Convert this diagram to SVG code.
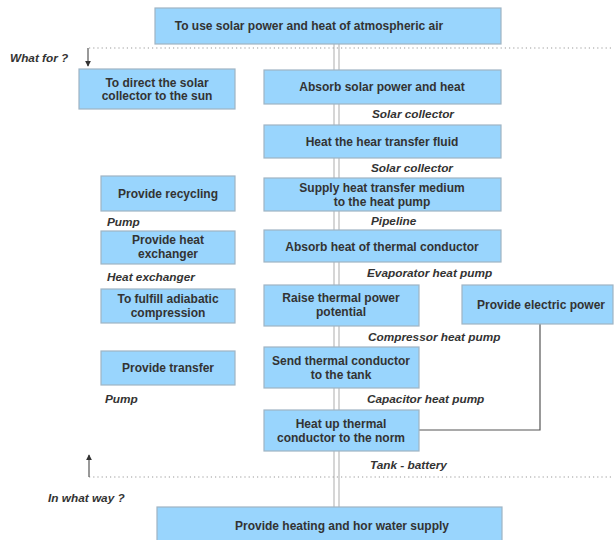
<svg xmlns="http://www.w3.org/2000/svg" width="614" height="540" viewBox="0 0 614 540">
<style>
.box rect{fill:#99d5fd;stroke:#9fb4c4;stroke-width:1.2}
.box text{font-family:"Liberation Sans",Arial,sans-serif;font-weight:bold;font-size:12px;fill:#333;text-anchor:middle}
.lbl{font-family:"Liberation Sans",Arial,sans-serif;font-weight:bold;font-style:italic;font-size:11.8px;fill:#333}
.dot{stroke:#999;stroke-width:1.2;stroke-dasharray:1.2 3;fill:none}
.spine{stroke:#bbb;stroke-width:1.2;fill:none}
.conn{stroke:#555;stroke-width:1.2;fill:none}
</style>
<defs>
<marker id="ah" viewBox="0 0 8 8" refX="7" refY="4" markerWidth="5" markerHeight="5" orient="auto-start-reverse">
<path d="M0,0 L8,4 L0,8 z" fill="#333"/>
</marker>
</defs>
<rect width="614" height="540" fill="#fff"/>
<g id="connectors">
<line class="spine" x1="334" y1="44" x2="334" y2="507"/>
<line class="spine" x1="339" y1="44" x2="339" y2="507"/>
<line class="dot" x1="89" y1="48" x2="614" y2="48"/>
<line class="dot" x1="89" y1="477" x2="614" y2="477"/>
<line class="conn" x1="88" y1="48" x2="88" y2="66" marker-end="url(#ah)"/>
<line class="conn" x1="89" y1="477" x2="89" y2="455" marker-end="url(#ah)"/>
<polyline class="conn" points="540,324 540,430 419,430"/>
</g>
<g id="n_top" class="box"><rect x="155" y="8" width="346" height="36"/><text x="309" y="30">To use solar power and heat of atmospheric air</text></g>
<g id="n_direct" class="box"><rect x="79" y="69" width="156" height="40"/><text x="157" y="87">To direct the solar</text><text x="157" y="100">collector to the sun</text></g>
<g id="n_absorb" class="box"><rect x="264" y="70" width="237" height="34"/><text x="382" y="91">Absorb solar power and heat</text></g>
<g id="n_heat" class="box"><rect x="264" y="125" width="237" height="33"/><text x="382" y="146">Heat the  hear transfer fluid</text></g>
<g id="n_recycle" class="box"><rect x="101" y="176" width="134" height="35"/><text x="168" y="198">Provide recycling</text></g>
<g id="n_supply" class="box"><rect x="264" y="178" width="237" height="33"/><text x="382" y="192">Supply heat transfer medium</text><text x="382" y="206">to the heat pump</text></g>
<g id="n_exch" class="box"><rect x="101" y="231" width="134" height="33"/><text x="168" y="244">Provide heat</text><text x="168" y="258">exchanger</text></g>
<g id="n_absheat" class="box"><rect x="264" y="230" width="237" height="32"/><text x="382" y="251">Absorb heat of thermal conductor</text></g>
<g id="n_adiab" class="box"><rect x="101" y="289" width="134" height="34"/><text x="168" y="303">To fulfill adiabatic</text><text x="168" y="317">compression</text></g>
<g id="n_raise" class="box"><rect x="264" y="285" width="155" height="41"/><text x="341" y="302">Raise thermal power</text><text x="341" y="316">potential</text></g>
<g id="n_elec" class="box"><rect x="462" y="285" width="151" height="39"/><text x="541" y="309">Provide electric power</text></g>
<g id="n_transfer" class="box"><rect x="101" y="351" width="134" height="34"/><text x="168" y="372">Provide transfer</text></g>
<g id="n_send" class="box"><rect x="264" y="347" width="155" height="41"/><text x="341" y="365">Send thermal conductor</text><text x="341" y="379">to the tank</text></g>
<g id="n_heatup" class="box"><rect x="264" y="410" width="155" height="41"/><text x="341" y="428">Heat up thermal</text><text x="341" y="442">conductor to the norm</text></g>
<g id="n_bottom" class="box"><rect x="157" y="507" width="345" height="40"/><text x="342" y="530">Provide heating and hor water supply</text></g>
<g id="labels">
<text class="lbl" x="10" y="62">What for ?</text>
<text class="lbl" x="48" y="502">In what way ?</text>
<text class="lbl" x="372" y="118">Solar collector</text>
<text class="lbl" x="371" y="172">Solar collector</text>
<text class="lbl" x="107" y="226">Pump</text>
<text class="lbl" x="371" y="225">Pipeline</text>
<text class="lbl" x="107" y="281">Heat exchanger</text>
<text class="lbl" x="367" y="277">Evaporator heat pump</text>
<text class="lbl" x="368" y="341">Compressor heat pump</text>
<text class="lbl" x="105" y="403">Pump</text>
<text class="lbl" x="367" y="403">Capacitor heat pump</text>
<text class="lbl" x="370" y="469">Tank - battery</text>
</g>
</svg>
